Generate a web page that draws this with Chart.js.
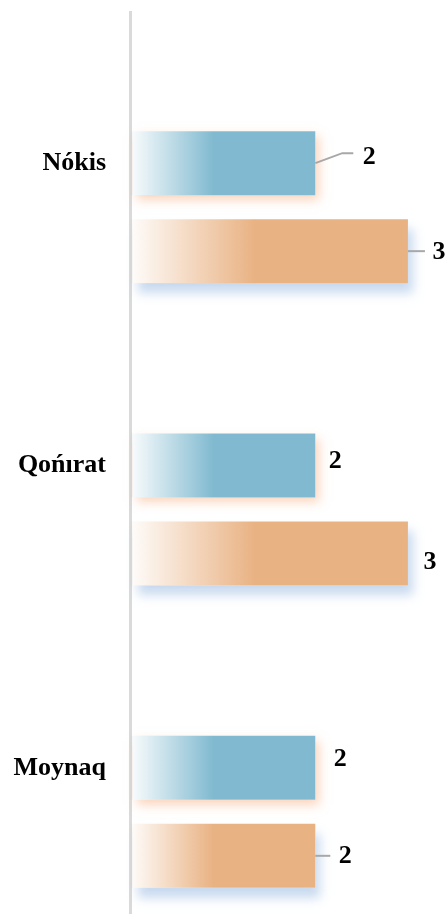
<!DOCTYPE html>
<html>
<head>
<meta charset="utf-8">
<script src="https://cdn.jsdelivr.net/npm/chart.js@4.4.1/dist/chart.umd.min.js"></script>
<style>
  html, body { margin: 0; padding: 0; background: #fff; overflow: hidden; }
  #wrap { position: relative; width: 448px; height: 920px; }
</style>
</head>
<body>
<div id="wrap"><canvas id="barChart"></canvas></div>
<script>
// chart data
const categories = ['Nókis', 'Qońırat', 'Moynaq'];
const blueValues = [2, 2, 2];
const orangeValues = [3, 3, 2];

// where each value label sits relative to the bar end (px), plus optional leader line
const labelLayout = {
    1: [
        { dx: 54, dy: -6, line: [[0, 0], [27, -10], [38, -10]] },
        { dx: 20, dy: -4, line: null },
        { dx: 25, dy: -9, line: null }
    ],
    2: [
        { dx: 31, dy: 1, line: [[0, 0], [17, 0]] },
        { dx: 22, dy: 9, line: null },
        { dx: 30, dy: 0, line: [[0, 0], [15, 0]] }
    ]
};

const FONT = '"Liberation Serif", "Times New Roman", serif';

// left-to-right fade used on every bar
function fadeFill(c, rgb) {
    const chart = c.chart;
    if (!chart.chartArea || c.raw == null) return 'rgb(' + rgb + ')';
    const x0 = chart.scales.x.getPixelForValue(0);
    const x1 = chart.scales.x.getPixelForValue(c.raw);
    const g = chart.ctx.createLinearGradient(x0, 0, x1, 0);
    g.addColorStop(0, 'rgba(' + rgb + ',0.03)');
    g.addColorStop(0.45, 'rgb(' + rgb + ')');
    g.addColorStop(1, 'rgb(' + rgb + ')');
    return g;
}

// soft coloured shadow under each dataset (drawn from a solid copy of the bar)
const shadows = {
    1: { color: 'rgba(246,178,135,0.55)', x: 4, y: 5, blur: 10 },
    2: { color: 'rgba(178,203,232,0.7)', x: 5, y: 10, blur: 10 }
};
const shadowPlugin = {
    id: 'barShadow',
    beforeDatasetDraw(chart, args) {
        const s = shadows[args.index];
        if (!s) return;
        const ctx = chart.ctx;
        args.meta.data.forEach((el, i) => {
            if (chart.data.datasets[args.index].data[i] == null) return;
            const p = el.getProps(['x', 'y', 'base', 'height'], true);
            ctx.save();
            ctx.shadowColor = s.color;
            ctx.shadowOffsetX = s.x;
            ctx.shadowOffsetY = s.y;
            ctx.shadowBlur = s.blur;
            ctx.fillStyle = '#fff';
            // keep clear of the axis line
            ctx.fillRect(p.base + 3, p.y - p.height / 2, p.x - p.base - 3, p.height);
            ctx.restore();
        });
    }
};

const valueLabels = {
    id: 'valueLabels',
    afterDatasetsDraw(chart) {
        const ctx = chart.ctx;
        ctx.save();
        ctx.font = 'bold 26px ' + FONT;
        ctx.textAlign = 'center';
        ctx.textBaseline = 'middle';
        ctx.strokeStyle = '#a8a8a8';
        ctx.lineWidth = 2;
        ctx.fillStyle = '#000';
        [1, 2].forEach(di => {
            const meta = chart.getDatasetMeta(di);
            meta.data.forEach((el, i) => {
                const val = chart.data.datasets[di].data[i];
                const lay = labelLayout[di][i];
                if (lay.line) {
                    ctx.beginPath();
                    lay.line.forEach((p, k) => {
                        if (k === 0) ctx.moveTo(el.x + p[0], el.y + p[1]);
                        else ctx.lineTo(el.x + p[0], el.y + p[1]);
                    });
                    ctx.stroke();
                }
                ctx.fillText(String(val), el.x + lay.dx, el.y + lay.dy);
            });
        });
        ctx.restore();
    }
};

const ctx = document.getElementById('barChart').getContext('2d');
const myChart = new Chart(ctx, {
    type: 'bar',
    data: {
        labels: categories,
        datasets: [
            { // empty slot so the blue bar sits on the category line
                data: categories.map(() => null),
                backgroundColor: 'rgba(0,0,0,0)'
            },
            {
                data: blueValues,
                backgroundColor: c => fadeFill(c, '129,186,208')
            },
            {
                data: orangeValues,
                backgroundColor: c => fadeFill(c, '233,178,131')
            }
        ]
    },
    options: {
        indexAxis: 'y',
        responsive: true,
        maintainAspectRatio: false,
        animation: false,
        categoryPercentage: 0.873,
        barPercentage: 0.727,
        skipNull: false,
        layout: { padding: { top: 12, right: 3, bottom: 1, left: 0 } },
        plugins: {
            legend: { display: false },
            tooltip: { enabled: false }
        },
        scales: {
            x: {
                min: 0,
                max: 3.4,
                display: false,
                grid: { display: false }
            },
            y: {
                grid: { display: false, drawTicks: false },
                border: { display: true, color: '#dadada', width: 3 },
                ticks: {
                    padding: 24,
                    color: '#000',
                    font: { family: FONT, size: 26, weight: 'bold' }
                },
                afterFit(scale) {
                    scale.width = 130;
                    scale.paddingTop = 0;
                    scale.paddingBottom = 0;
                }
            }
        }
    },
    plugins: [shadowPlugin, valueLabels]
});
</script>
</body>
</html>
